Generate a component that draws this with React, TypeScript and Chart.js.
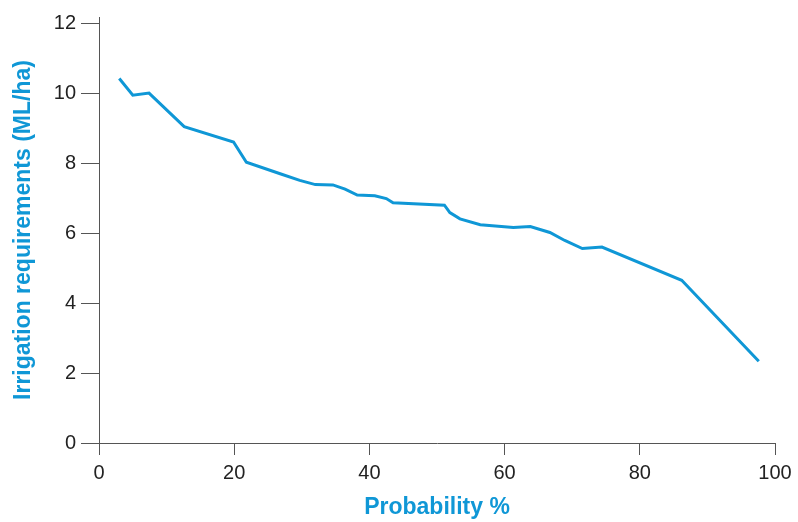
import React, { useEffect, useRef } from "react";
import { Chart, registerables } from "chart.js";

Chart.register(...registerables);

const probability = [3, 5, 7.4, 12.6, 19.9, 21.8, 26.8, 29.7, 32, 34.6, 36.4, 38.2, 40.8, 42.5, 43.5, 51.1, 51.9, 53.4, 56.4, 61.3, 63.8, 66.7, 68.9, 71.5, 74.4, 86.2, 97.6];
const irrigation = [10.44, 9.96, 10.02, 9.06, 8.62, 8.04, 7.71, 7.52, 7.4, 7.39, 7.27, 7.1, 7.08, 7.0, 6.88, 6.81, 6.6, 6.42, 6.25, 6.17, 6.2, 6.03, 5.8, 5.57, 5.61, 4.66, 2.34];
const yTicks = [0, 2, 4, 6, 8, 10, 12];
const xTicks = [0, 20, 40, 60, 80, 100];

const BLUE = "#0f97d6";
const AXIS = "#555555";
const FONT = "'Liberation Sans', Arial, Helvetica, sans-serif";

export default function App() {
  const ref = useRef<HTMLCanvasElement | null>(null);
  useEffect(() => {
    document.body.style.margin = "0";
    const ctx = ref.current!;
    const chart = new Chart(ctx, {
      type: "line",
      data: {
        datasets: [
          {
            data: probability.map((x, i) => ({ x, y: irrigation[i] })),
            borderColor: BLUE,
            borderWidth: 3,
            pointRadius: 0,
            tension: 0,
            fill: false,
          },
        ],
      },
      options: {
        animation: false,
        responsive: false,
        maintainAspectRatio: false,
        layout: { padding: { top: 12, right: 23, bottom: 0, left: 0 } },
        plugins: { legend: { display: false }, tooltip: { enabled: false } },
        scales: {
          x: {
            type: "linear",
            min: 0,
            max: 100,
            afterBuildTicks: (s: any) => {
              s.ticks = xTicks.map((v) => ({ value: v }));
            },
            afterFit: (s: any) => {
              s.height = 79;
            },
            grid: { drawOnChartArea: false, drawTicks: true, tickLength: 12, color: AXIS, lineWidth: 1 },
            border: { color: AXIS, width: 1 },
            ticks: { color: "#222", font: { family: FONT, size: 20 }, padding: 6, maxRotation: 0 },
            title: {
              display: true,
              text: "Probability %",
              color: BLUE,
              font: { family: FONT, size: 23, weight: "bold" },
              padding: { top: 0, bottom: 1 },
            },
          },
          y: {
            type: "linear",
            min: 0,
            max: 12.2,
            afterBuildTicks: (s: any) => {
              s.ticks = yTicks.map((v) => ({ value: v }));
            },
            afterFit: (s: any) => {
              s.width = 99;
            },
            grid: { drawOnChartArea: false, drawTicks: true, tickLength: 18, color: AXIS, lineWidth: 1 },
            border: { color: AXIS, width: 1 },
            ticks: { color: "#222", font: { family: FONT, size: 20 }, padding: 5 },
            title: {
              display: true,
              text: "Irrigation requirements (ML/ha)",
              color: BLUE,
              font: { family: FONT, size: 23, weight: "bold" },
              padding: { top: 10, bottom: 0 },
            },
          },
        },
      },
    });
    return () => chart.destroy();
  }, []);
  return (
    <div style={{ position: "absolute", left: 0, top: 0, width: 798, height: 522 }}>
      <canvas ref={ref} width={798} height={522} style={{ width: 798, height: 522 }} />
    </div>
  );
}
